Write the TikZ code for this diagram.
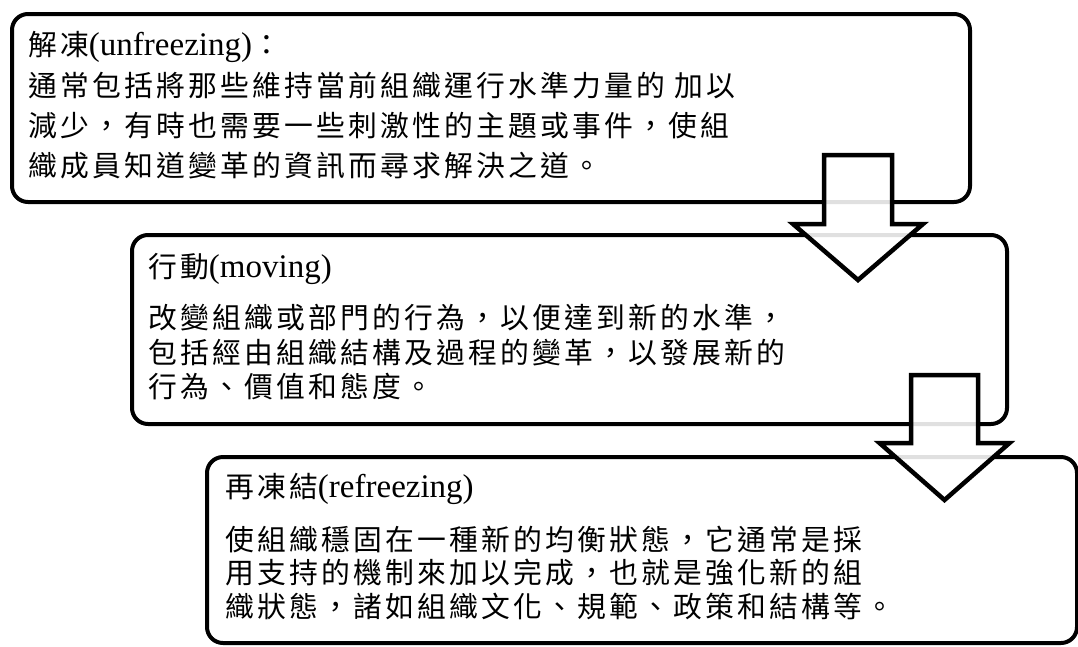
\documentclass[tikz,border=0pt]{standalone}
\usepackage{fontspec}
\setmainfont{Liberation Serif}
\newfontfamily\cj[Scale=0.8727,LetterSpace=11.1]{Noto Sans CJK TC}
\usetikzlibrary{calc}
\tikzset{
  box/.style={draw=black, line width=4pt, rounded corners=16pt, fill=white, anchor=north west, inner sep=0pt},
  txt/.style={anchor=base west, inner sep=0pt, font=\fontsize{33}{38}\selectfont},
  blockarrow/.style={draw=black, line width=4.5pt, miter limit=10, line join=miter, fill=white, fill opacity=0.88},
}
\begin{document}
\begin{tikzpicture}[x=1pt,y=-1pt]
\useasboundingbox (0,0) rectangle (1078,646);
% boxes
\node[box, minimum width=958pt, minimum height=188pt] (b1) at (10,12) {};
\node[box, minimum width=875pt, minimum height=189pt] (b2) at (130,233) {};
\node[box, minimum width=870pt, minimum height=186pt] (b3) at (205,455) {};
% box 1 text
\node[txt] (h1) at (28,55) {{\cj 解凍}(unfreezing){\cj ：}};
\node[txt] (l1a) at (28,96) {\cj 通常包括將那些維持當前組織運行水準力量的\hspace{10pt}加以};
\node[txt] (l1b) at (28,136) {\cj 減少，有時也需要一些刺激性的主題或事件，使組};
\node[txt] (l1c) at (28,176) {\cj 織成員知道變革的資訊而尋求解決之道。};
% box 2 text
\node[txt] (h2) at (148,277) {{\cj 行動}(moving)};
\node[txt] (l2a) at (148,328) {\cj 改變組織或部門的行為，以便達到新的水準，};
\node[txt] (l2b) at (148,363) {\cj 包括經由組織結構及過程的變革，以發展新的};
\node[txt] (l2c) at (148,397) {\cj 行為、價值和態度。};
% box 3 text
\node[txt] (h3) at (225,497) {{\cj 再凍結}(refreezing)};
\node[txt] (l3a) at (225,550) {\cj 使組織穩固在一種新的均衡狀態，它通常是採};
\node[txt] (l3b) at (225,583) {\cj 用支持的機制來加以完成，也就是強化新的組};
\node[txt] (l3c) at (225,617) {\cj 織狀態，諸如組織文化、規範、政策和結構等。};
% block arrows
\coordinate (a1) at (858,155);
\coordinate (a2) at (944.5,375);
\begin{scope}[shift={(a1)}]
\draw[blockarrow] (-34,0) -- (34,0) -- (34,69) -- (65,69) -- (0,125) -- (-65,69) -- (-34,69) -- cycle;
\end{scope}
\begin{scope}[shift={(a2)}]
\draw[blockarrow] (-33.5,0) -- (33.5,0) -- (33.5,68) -- (65,68) -- (0,125) -- (-65,68) -- (-33.5,68) -- cycle;
\end{scope}
\end{tikzpicture}
\end{document}
